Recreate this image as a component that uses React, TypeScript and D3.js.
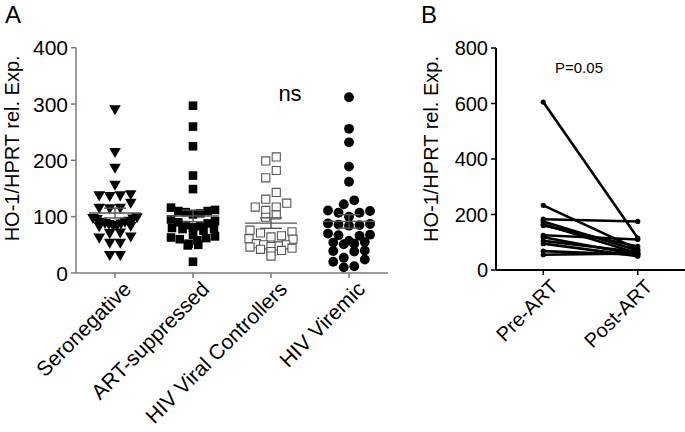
import { scaleLinear, scalePoint, symbol, symbolTriangle, symbolSquare, symbolCircle, mean, deviation } from "d3"

// Panel A: HO-1/HPRT relative expression per group
const groups = ["Seronegative", "ART-suppressed", "HIV Viral Controllers", "HIV Viremic"]
const seronegative = [292, 216, 188, 158, 141, 139, 139, 138, 126, 117, 117, 116, 100, 99, 98, 97, 94, 92, 90, 88, 86, 85, 84, 86, 89, 92, 73, 64, 72, 66, 55, 55, 33, 33]
const artSuppressed = [297, 260, 225, 173, 149, 116, 112, 110, 110, 108, 106, 104, 95, 92, 90, 88, 85, 83, 81, 80, 79, 78, 75, 68, 65, 63, 62, 60, 58, 52, 50, 49, 20]
const viralControllers = [206, 199, 182, 169, 143, 131, 124, 117, 117, 111, 103, 99, 76, 73, 71, 66, 64, 61, 60, 52, 50, 50, 48, 47, 46, 44, 42, 40, 38, 30]
const viremic = [312, 256, 232, 189, 162, 129, 122, 111, 110, 107, 107, 100, 88, 87, 86, 85, 84, 70, 68, 67, 66, 57, 54, 55, 51, 52, 40, 39, 38, 27, 20, 24, 10, 12]
const groupValues = [seronegative, artSuppressed, viralControllers, viremic]
const ticksA = [0, 100, 200, 300, 400]

// Panel B: paired pre/post ART
const timepoints = ["Pre-ART", "Post-ART"]
const preART = [605, 233, 183, 175, 165, 160, 125, 118, 105, 95, 68, 55]
const postART = [115, 75, 175, 70, 60, 85, 110, 55, 65, 50, 55, 60]
const ticksB = [0, 200, 400, 600, 800]

const font = "'Liberation Sans', Arial, Helvetica, sans-serif"

// prism-like scatter: bin points into rows, spread each row sideways
// (lowest value in the middle so rows bend into a V)
function scatterOffsets(values: number[], y: (v: number) => number, rowH: number, gap: number, half: number) {
  const pts = values.map((v, i) => ({ i, v, y: y(v) })).sort((a, b) => a.y - b.y)
  const rows: (typeof pts)[] = []
  let start = -Infinity
  for (const p of pts) {
    if (p.y - start > rowH) {
      rows.push([])
      start = p.y
    }
    rows[rows.length - 1].push(p)
  }
  const out = new Array(values.length).fill(0)
  for (const row of rows) {
    const n = row.length
    const s = n > 1 ? Math.min(gap, (2 * half) / (n - 1)) : 0
    row.sort((a, b) => a.v - b.v)
    row.forEach((p, k) => {
      const step = n % 2 ? Math.ceil(k / 2) : Math.floor(k / 2) + 0.5
      const sign = k % 2 ? 1 : -1
      out[p.i] = (n % 2 && k === 0 ? 0 : sign * step) * s
    })
  }
  return out
}

const markers = [
  { path: symbol(symbolTriangle, 58)() ?? "", rotate: 180, fill: "#000", stroke: "none" },
  { path: symbol(symbolSquare, 74)() ?? "", rotate: 0, fill: "#000", stroke: "none" },
  { path: symbol(symbolSquare, 66)() ?? "", rotate: 0, fill: "#fff", stroke: "#555" },
  { path: symbol(symbolCircle, 76)() ?? "", rotate: 0, fill: "#000", stroke: "none" },
]

export default function App() {
  const yA = scaleLinear().domain([0, 400]).range([273, 47.7])
  const xA = scalePoint<string>().domain(groups).range([76, 388]).padding(0.5)
  const yB = scaleLinear().domain([0, 800]).range([270, 48])
  const xB = scalePoint<string>().domain(timepoints).range([496, 685]).padding(0.5)
  const axisA = "#7a7a7a"

  return (
    <svg width={685} height={432} style={{ position: "absolute", left: 0, top: 0, background: "#fff" }} fontFamily={font}>
      {/* panel letters */}
      <text x={5} y={23} fontSize={24}>A</text>
      <text x={421} y={23} fontSize={24}>B</text>

      {/* ---- Panel A ---- */}
      <text transform={`translate(19,${(yA(0) + yA(400)) / 2 - 12}) rotate(-90)`} textAnchor="middle" fontSize={20}>
        HO-1/HPRT rel. Exp.
      </text>
      <line x1={76} x2={76} y1={yA(0)} y2={yA(400)} stroke={axisA} strokeWidth={1.5} />
      <line x1={76} x2={388} y1={yA(0)} y2={yA(0)} stroke={axisA} strokeWidth={1.5} />
      {ticksA.map((t) => (
        <g key={t}>
          <line x1={71} x2={76} y1={yA(t)} y2={yA(t)} stroke={axisA} strokeWidth={1.5} />
          <text x={68} y={yA(t)} dy="0.36em" textAnchor="end" fontSize={21}>{t}</text>
        </g>
      ))}
      {groups.map((g) => (
        <g key={g}>
          <line x1={xA(g)} x2={xA(g)} y1={yA(0)} y2={yA(0) + 5} stroke={axisA} strokeWidth={1.5} />
          <text
            transform={`translate(${(xA(g) ?? 0) + 7},${yA(0) + 7}) rotate(-45)`}
            textAnchor="end"
            dy="0.7em"
            fontSize={21}
          >
            {g}
          </text>
        </g>
      ))}
      {groupValues.map((vals, gi) => {
        const cx = xA(groups[gi]) ?? 0
        const offs = scatterOffsets(vals, yA, 8, 10.5, 22)
        const m = mean(vals) ?? 0
        const sem = (deviation(vals) ?? 0) / Math.sqrt(vals.length)
        const mk = markers[gi]
        return (
          <g key={gi}>
            {vals.map((v, i) => (
              <path
                key={i}
                d={mk.path}
                transform={`translate(${cx + offs[i]},${yA(v)}) rotate(${mk.rotate})`}
                fill={mk.fill}
                stroke={mk.stroke}
                strokeWidth={1.1}
              />
            ))}
            <g stroke="#555" strokeWidth={1.4}>
              <line x1={cx - 26} x2={cx + 26} y1={yA(m)} y2={yA(m)} />
              <line x1={cx} x2={cx} y1={yA(m - sem)} y2={yA(m + sem)} />
              <line x1={cx - 11} x2={cx + 11} y1={yA(m + sem)} y2={yA(m + sem)} />
              <line x1={cx - 11} x2={cx + 11} y1={yA(m - sem)} y2={yA(m - sem)} />
            </g>
          </g>
        )
      })}
      <text x={290} y={101} textAnchor="middle" fontSize={22}>ns</text>

      {/* ---- Panel B ---- */}
      <text transform={`translate(438,${(yB(0) + yB(800)) / 2 - 10}) rotate(-90)`} textAnchor="middle" fontSize={20}>
        HO-1/HPRT rel. Exp.
      </text>
      <line x1={496} x2={496} y1={yB(0)} y2={yB(800)} stroke="#000" strokeWidth={2} />
      <line x1={496} x2={685} y1={yB(0)} y2={yB(0)} stroke="#000" strokeWidth={2} />
      {ticksB.map((t) => (
        <g key={t}>
          <line x1={491} x2={496} y1={yB(t)} y2={yB(t)} stroke="#000" strokeWidth={1.5} />
          <text x={488} y={yB(t)} dy="0.36em" textAnchor="end" fontSize={20}>{t}</text>
        </g>
      ))}
      {timepoints.map((t) => (
        <g key={t}>
          <line x1={xB(t)} x2={xB(t)} y1={yB(0)} y2={yB(0) + 5} stroke="#000" strokeWidth={1.5} />
          <text
            transform={`translate(${(xB(t) ?? 0) + 6},${yB(0) + 8}) rotate(-45)`}
            textAnchor="end"
            dy="0.7em"
            fontSize={20}
          >
            {t}
          </text>
        </g>
      ))}
      {preART.map((p, i) => {
        const x1 = xB("Pre-ART") ?? 0
        const x2 = xB("Post-ART") ?? 0
        return (
          <g key={i}>
            <line x1={x1} x2={x2} y1={yB(p)} y2={yB(postART[i])} stroke="#000" strokeWidth={2.6} />
            <circle cx={x1} cy={yB(p)} r={2.6} fill="#000" />
            <circle cx={x2} cy={yB(postART[i])} r={2.6} fill="#000" />
          </g>
        )
      })}
      <text x={579} y={73} textAnchor="middle" fontSize={15}>P=0.05</text>
    </svg>
  )
}
